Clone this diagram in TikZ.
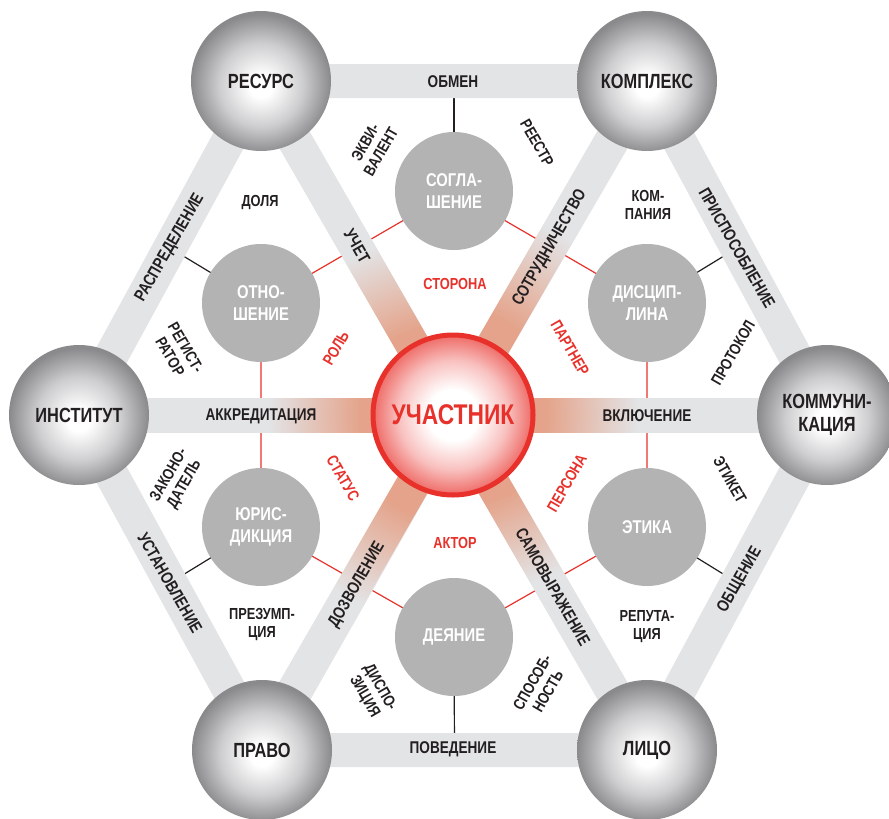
\documentclass[tikz,border=0pt]{standalone}
\usepackage{fontspec}
\setmainfont[FakeStretch=0.8]{Liberation Sans}
\usetikzlibrary{calc}
\definecolor{tdark}{RGB}{35,31,32}
\definecolor{bandgray}{RGB}{227,228,230}
\definecolor{innergray}{RGB}{179,179,179}
\definecolor{cred}{RGB}{232,49,43}
\definecolor{sal}{RGB}{228,163,138}
\definecolor{balledge}{RGB}{138,138,140}
\definecolor{ballmid}{RGB}{205,205,207}
\pgfdeclarelayer{lines}\pgfdeclarelayer{bands}\pgfdeclarelayer{glow}
\pgfsetlayers{lines,bands,glow,main}
\pgfdeclareradialshading{ballsh}{\pgfpoint{0bp}{-2bp}}{color(0bp)=(white); color(4bp)=(white); color(15bp)=(ballmid); color(25bp)=(balledge); color(50bp)=(balledge)}
\pgfdeclareradialshading{centersh}{\pgfpoint{0bp}{0bp}}{color(0bp)=(white); color(8bp)=(white); color(17bp)=(cred!30!white); color(25bp)=(cred!72!white); color(50bp)=(cred!72!white)}
\pgfdeclareradialshading{glowsh}{\pgfpoint{0bp}{0bp}}{color(0bp)=(sal); color(7bp)=(sal); color(14bp)=(bandgray); color(50bp)=(bandgray)}
\begin{document}
\begin{tikzpicture}[x=1pt,y=-1pt,
  outer/.style={circle, minimum size=140pt, inner sep=0pt, shade, shading=ballsh, text=tdark, align=center, font=\fontsize{20.5}{23}\selectfont\bfseries},
  inner/.style={circle, minimum size=118pt, inner sep=0pt, fill=innergray, text=white, align=center, font=\fontsize{18.5}{21.5}\selectfont\bfseries},
  centre/.style={circle, minimum size=160pt, inner sep=0pt, draw=cred, line width=5pt, shade, shading=centersh, text=cred, font=\fontsize{28.5}{30}\selectfont\bfseries},
  band/.style={draw=bandgray, line width=34pt},
  thinred/.style={draw=cred, line width=1.2pt},
  thinblack/.style={draw=tdark, line width=1.2pt},
  bandlbl/.style={text=tdark, inner sep=0pt, font=\fontsize{17}{19}\selectfont\bfseries},
  redlbl/.style={text=cred, inner sep=0pt, align=center, font=\fontsize{16}{18}\selectfont\bfseries},
  blklbl/.style={text=tdark, inner sep=0pt, align=center, font=\fontsize{16}{18}\selectfont\bfseries}]
\useasboundingbox (0,0) rectangle (889,819);
% outer nodes
\node[outer] (res) at (261,81) {РЕСУРС};
\node[outer] (kmp) at (647,81) {КОМПЛЕКС};
\node[outer] (ins) at (79,415) {ИНСТИТУТ};
\node[outer] (kmm) at (827,415) {КОММУНИ-\\КАЦИЯ};
\node[outer] (prv) at (262,750) {ПРАВО};
\node[outer] (lic) at (647,750) {ЛИЦО};
% inner nodes
\node[inner] (sog) at (454,191) {СОГЛА-\\ШЕНИЕ};
\node[inner] (otn) at (261,303) {ОТНО-\\ШЕНИЕ};
\node[inner] (dis) at (647,303) {ДИСЦИП-\\ЛИНА};
\node[inner] (yur) at (261,527) {ЮРИС-\\ДИКЦИЯ};
\node[inner] (eti) at (647,527) {ЭТИКА};
\node[inner] (dey) at (454,637) {ДЕЯНИЕ};
% centre
\node[centre] (ctr) at (453,415) {УЧАСТНИК};
% midpoints of outer edges
\coordinate (mRK) at ($(res)!0.5!(kmp)$);
\coordinate (mKC) at ($(kmp)!0.5!(kmm)$);
\coordinate (mCL) at ($(kmm)!0.5!(lic)$);
\coordinate (mLP) at ($(lic)!0.5!(prv)$);
\coordinate (mPI) at ($(prv)!0.5!(ins)$);
\coordinate (mIR) at ($(ins)!0.5!(res)$);
\begin{pgfonlayer}{lines}
\draw[thinred] (sog.center) -- (dis.center) -- (eti.center) -- (dey.center) -- (yur.center) -- (otn.center) -- (sog.center);
\draw[thinblack] (sog.center) -- (mRK);
\draw[thinblack] (dis.center) -- (mKC);
\draw[thinblack] (eti.center) -- (mCL);
\draw[thinblack] (dey.center) -- (mLP);
\draw[thinblack] (yur.center) -- (mPI);
\draw[thinblack] (otn.center) -- (mIR);
\end{pgfonlayer}
\begin{pgfonlayer}{bands}
\draw[band] (res.center) -- (kmp.center) -- (kmm.center) -- (lic.center) -- (prv.center) -- (ins.center) -- cycle;
\foreach \v in {res,kmp,ins,kmm,prv,lic} \draw[band] (ctr.center) -- (\v.center);
\end{pgfonlayer}
\begin{pgfonlayer}{glow}
\foreach \a in {0,60,120,180,240,300} {
  \begin{scope}[shift={(ctr.center)}, rotate=\a]
    \clip (0,-17) rectangle (330,17);
    \shade[shading=glowsh] (0,0) circle (330);
  \end{scope}
}
\end{pgfonlayer}
% band labels
\node[bandlbl] (lObmen) at (453,82) {ОБМЕН};
\node[bandlbl] (lPoved) at (453,749) {ПОВЕДЕНИЕ};
\node[bandlbl] (lAkkr) at (261,416) {АККРЕДИТАЦИЯ};
\node[bandlbl] (lVkl) at (647,416) {ВКЛЮЧЕНИЕ};
\node[bandlbl, rotate=-60] (lUchet) at (357,246) {УЧЕТ};
\node[bandlbl, rotate=60] (lSotr) at (550,248) {СОТРУДНИЧЕСТВО};
\node[bandlbl, rotate=60] (lDozv) at (357,585) {ДОЗВОЛЕНИЕ};
\node[bandlbl, rotate=-60] (lSamo) at (553,587) {САМОВЫРАЖЕНИЕ};
\node[bandlbl, rotate=60] (lRasp) at (170,248) {РАСПРЕДЕЛЕНИЕ};
\node[bandlbl, rotate=-60] (lPris) at (737,248) {ПРИСПОСОБЛЕНИЕ};
\node[bandlbl, rotate=-60] (lUst) at (170,583) {УСТАНОВЛЕНИЕ};
\node[bandlbl, rotate=60] (lObsh) at (740,580) {ОБЩЕНИЕ};
% red labels
\node[redlbl] (lStor) at (455,284) {СТОРОНА};
\node[redlbl, rotate=60] (lRol) at (336,348) {РОЛЬ};
\node[redlbl, rotate=-60] (lPart) at (570,348) {ПАРТНЕР};
\node[redlbl, rotate=-60] (lStat) at (343,478) {СТАТУС};
\node[redlbl, rotate=60] (lPers) at (567,483) {ПЕРСОНА};
\node[redlbl] (lAkt) at (455,543) {АКТОР};
% black labels
\node[blklbl, rotate=60] (lEkv) at (373,147) {ЭКВИ-\\ВАЛЕНТ};
\node[blklbl, rotate=-60] (lReestr) at (537,143) {РЕЕСТР};
\node[blklbl] (lDolya) at (260,203) {ДОЛЯ};
\node[blklbl] (lKomp) at (648,205) {КОМ-\\ПАНИЯ};
\node[blklbl, rotate=-60] (lReg) at (178,352) {РЕГИСТ-\\РАТОР};
\node[blklbl, rotate=60] (lProt) at (733,353) {ПРОТОКОЛ};
\node[blklbl, rotate=60] (lZak) at (177,480) {ЗАКОНО-\\ДАТЕЛЬ};
\node[blklbl, rotate=-60] (lEtik) at (730,480) {ЭТИКЕТ};
\node[blklbl] (lPrez) at (262,625) {ПРЕЗУМП-\\ЦИЯ};
\node[blklbl] (lRep) at (647,627) {РЕПУТА-\\ЦИЯ};
\node[blklbl, rotate=-60] (lDisp) at (372,692) {ДИСПО-\\ЗИЦИЯ};
\node[blklbl, rotate=60] (lSpos) at (540,687) {СПОСОБ-\\НОСТЬ};
\end{tikzpicture}
\end{document}
